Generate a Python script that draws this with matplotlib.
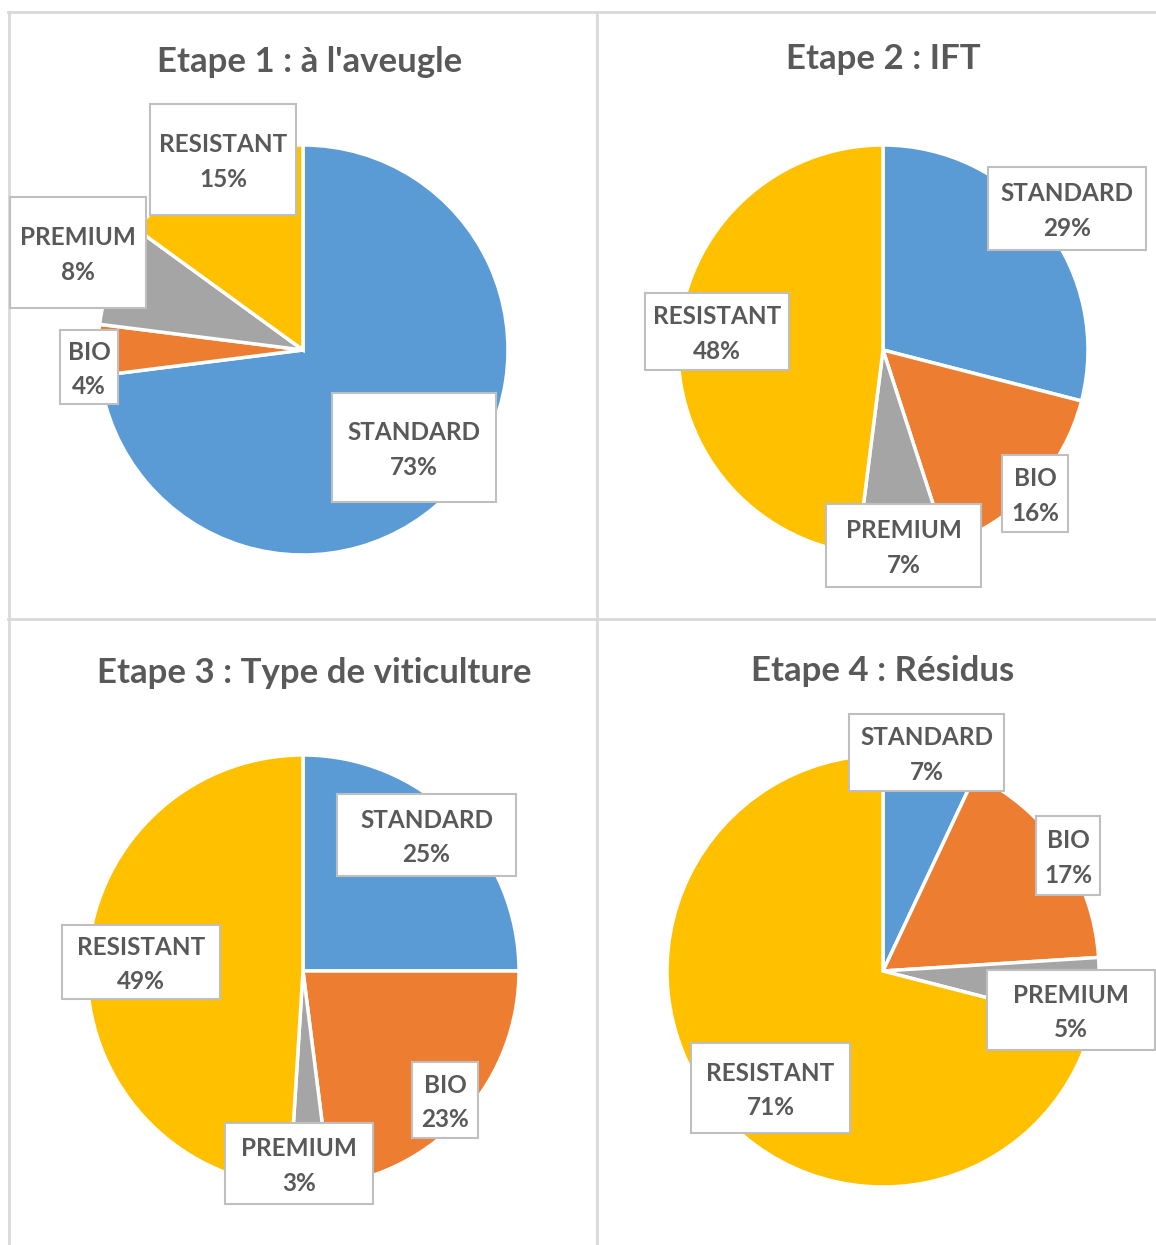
import matplotlib.pyplot as plt
from matplotlib.patches import Rectangle

categories = ["STANDARD", "BIO", "PREMIUM", "RESISTANT"]
colors = ["#5B9BD5", "#ED7D31", "#A5A5A5", "#FFC000"]

titles = [
    "Etape 1 : à l'aveugle",
    "Etape 2 : IFT",
    "Etape 3 : Type de viticulture",
    "Etape 4 : Résidus",
]
etape1 = [73, 4, 8, 15]
etape2 = [29, 16, 7, 48]
etape3 = [25, 23, 3, 49]
etape4 = [7, 17, 5, 71]
all_values = [etape1, etape2, etape3, etape4]

# layout, in pixels from the top-left corner of the picture
W, H = 1156, 1245
title_pos = [(310, 62), (883, 59), (314, 673), (883, 671)]
pie_center = [(303, 350), (883, 350), (303, 971), (883, 971)]
pie_radius = [205, 205, 216, 216]
# label boxes (x0, y0, x1, y1) in category order
label_boxes = [
    [(332, 393, 496, 502), (60, 330, 118, 404), (10, 197, 146, 308), (150, 104, 296, 215)],
    [(988, 167, 1146, 250), (1002, 455, 1068, 532), (826, 504, 981, 587), (645, 293, 789, 370)],
    [(337, 794, 516, 876), (412, 1062, 478, 1138), (225, 1123, 373, 1204), (62, 925, 220, 999)],
    [(849, 714, 1004, 791), (1036, 816, 1100, 895), (987, 970, 1155, 1050), (691, 1043, 850, 1133)],
]

text_color = "#595959"
plt.rcParams["font.family"] = ["Lato", "DejaVu Sans"]

fig = plt.figure(figsize=(W / 100, H / 100), dpi=100)
ax = fig.add_axes([0, 0, 1, 1])

# panel borders
grid = "#D9D9D9"
ax.plot([8, W], [H - 12, H - 12], color=grid, lw=2)
ax.plot([8, W], [H - 619, H - 619], color=grid, lw=2)
ax.plot([9, 9], [0, H - 12], color=grid, lw=2)
ax.plot([597, 597], [0, H - 12], color=grid, lw=2)

for i, values in enumerate(all_values):
    cx, cy = pie_center[i]
    ax.pie(values, colors=colors, startangle=90, counterclock=False,
           center=(cx, H - cy), radius=pie_radius[i],
           wedgeprops=dict(edgecolor="white", linewidth=2.5))
    tx, ty = title_pos[i]
    ax.text(tx, H - ty, titles[i], ha="center", va="center", fontsize=25,
            fontweight="bold", color=text_color)
    for cat, v, (x0, y0, x1, y1) in zip(categories, values, label_boxes[i]):
        ax.add_patch(Rectangle((x0, H - y1), x1 - x0, y1 - y0, facecolor="white",
                               edgecolor="#BFBFBF", linewidth=1.5, zorder=5))
        ax.text((x0 + x1) / 2, H - (y0 + y1) / 2 - 2.5, f"{cat}\n{v}%", ha="center",
                va="center", fontsize=17.5, fontweight="bold", color=text_color,
                linespacing=1.6, zorder=6)

ax.set_xlim(0, W)
ax.set_ylim(0, H)
ax.set_aspect("auto")
ax.axis("off")

fig.savefig("out.png", dpi=100, facecolor="white")
